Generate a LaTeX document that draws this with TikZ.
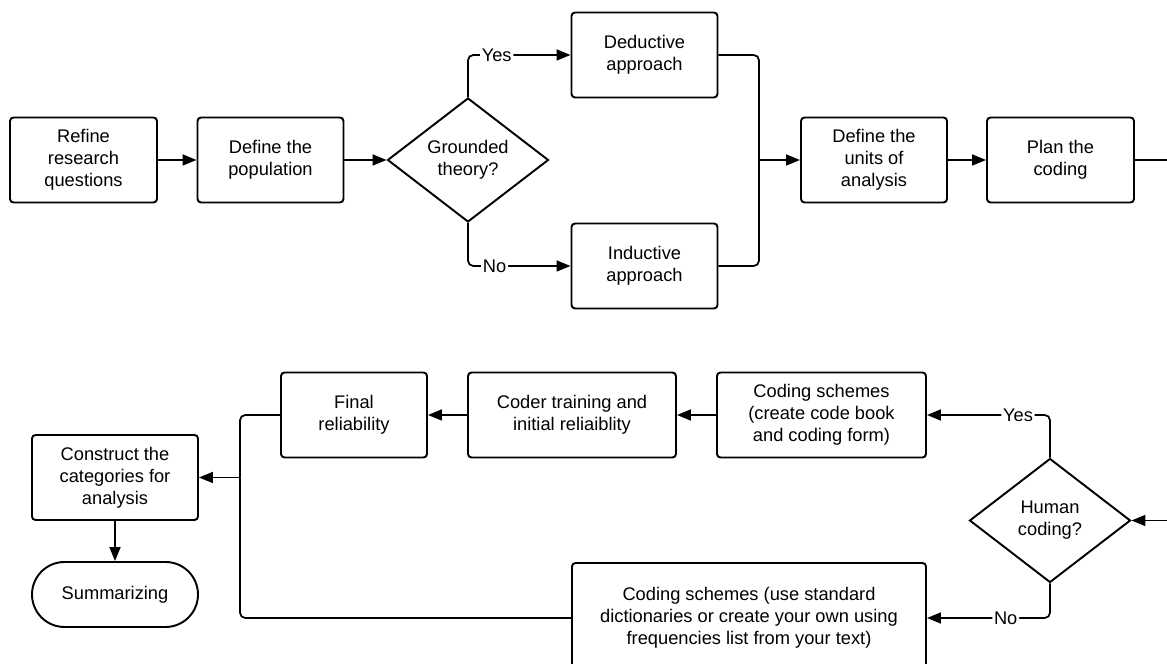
\documentclass[tikz,border=0pt]{standalone}
\usepackage{fontspec}
\setmainfont{Liberation Sans}
\usetikzlibrary{arrows.meta,shapes,calc,positioning}

\begin{document}
\begin{tikzpicture}
	\tikzstyle{every node}=[font=\fontsize{10.4}{12.6}\selectfont]
	\tikzstyle{box}=[draw, line width=1.1pt, rounded corners=2pt, align=center, minimum width=2.92cm, minimum height=1.7cm, inner sep=2pt]
	\tikzstyle{decision}=[draw, diamond, line width=1.1pt, align=center, aspect=1.3, inner sep=0pt, minimum width=3.22cm, minimum height=2.48cm]
	\tikzstyle{flow}=[line width=1pt, rounded corners=3pt]
	\tikzstyle{arr}=[flow, -{Triangle[length=0.28cm, width=0.22cm]}]
	\tikzstyle{tag}=[fill=white, inner sep=1pt]
	\useasboundingbox (0,0) rectangle (23.34,13.28);

	% top row
	\node [box, minimum width=2.94cm] (refine) at (1.67,10.08) {Refine\\research\\questions};
	\node [box] (population) at (5.41,10.08) {Define the\\population};
	\node [decision] (grounded) at (9.36,10.08) {Grounded\\theory?};
	\node [box] (deductive) at (12.89,12.18) {Deductive\\approach};
	\node [box] (inductive) at (12.89,7.96) {Inductive\\approach};
	\coordinate (merge) at (15.18,10.08);
	\node [box] (units) at (17.48,10.08) {Define the\\units of\\analysis};
	\node [box, minimum width=2.94cm] (plan) at (21.21,10.08) {Plan the\\coding};
	\coordinate (planout) at (23.34,10.08);

	% bottom row
	\coordinate (humanin) at (23.34,2.87);
	\node [decision] (human) at (21.0,2.87) {Human\\coding?};
	\node [box, minimum width=4.18cm] (codebook) at (16.43,4.98) {Coding schemes\\(create code book\\and coding form)};
	\node [box, minimum width=4.16cm] (coder) at (11.44,4.98) {Coder training and\\initial reliaiblity};
	\node [box] (final) at (7.08,4.98) {Final\\reliability};
	\node [box, minimum width=7.08cm, minimum height=2.2cm] (dictionary) at (14.98,0.92) {Coding schemes (use standard\\dictionaries or create your own using\\frequencies list from your text)};
	\coordinate (join) at (4.8,3.73);
	\node [box, minimum width=3.32cm] (construct) at (2.3,3.73) {Construct the\\categories for\\analysis};
	\node [draw, line width=1.1pt, rounded corners=0.65cm, minimum width=3.32cm, minimum height=1.3cm] (summary) at (2.3,1.39) {Summarizing};

	% connectors
	\draw [arr] (refine) -- (population);
	\draw [arr] (population) -- (grounded);
	\draw [arr] (grounded.north) |- node [tag, pos=0.64] {Yes} (deductive);
	\draw [arr] (grounded.south) |- node [tag, pos=0.63] {No} (inductive);
	\draw [flow] (deductive) -| (merge);
	\draw [flow] (inductive) -| (merge);
	\draw [arr] (merge) -- (units);
	\draw [arr] (units) -- (plan);
	\draw [flow] (plan) -- (planout);

	\draw [arr] (humanin) -- (human);
	\draw [arr] (human.north) |- node [tag, pos=0.63] {Yes} (codebook);
	\draw [arr] (human.south) |- node [tag, pos=0.68] {No} (dictionary);
	\draw [arr] (codebook) -- (coder);
	\draw [arr] (coder) -- (final);
	\draw [flow] (final) -| (join);
	\draw [flow] (dictionary) -| (join);
	\draw [arr] (join) -- (construct);
	\draw [arr] (construct) -- (summary);
\end{tikzpicture}
\end{document}
